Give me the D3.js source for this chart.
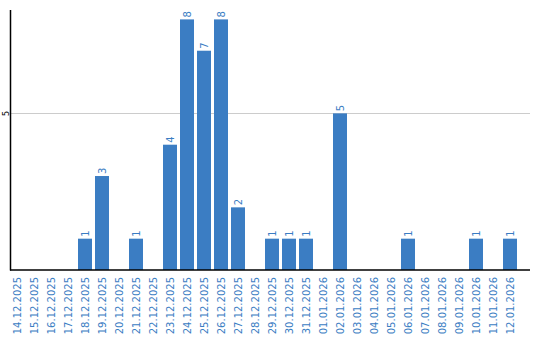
<!DOCTYPE html>
<html><head><meta charset="utf-8">
<script src="https://cdn.jsdelivr.net/npm/d3@7"></script>
<style>body{margin:0;background:#fff}svg{display:block}</style>
</head><body>
<script>
const categories = ["14.12.2025","15.12.2025","16.12.2025","17.12.2025","18.12.2025","19.12.2025","20.12.2025","21.12.2025","22.12.2025","23.12.2025","24.12.2025","25.12.2025","26.12.2025","27.12.2025","28.12.2025","29.12.2025","30.12.2025","31.12.2025","01.01.2026","02.01.2026","03.01.2026","04.01.2026","05.01.2026","06.01.2026","07.01.2026","08.01.2026","09.01.2026","10.01.2026","11.01.2026","12.01.2026"];
const values = [0,0,0,0,1,3,0,1,0,4,8,7,8,2,0,1,1,1,0,5,0,0,0,1,0,0,0,1,0,1];
const yTicks = [5];

const W = 540, H = 340;
const color = "#3b7dc3";
const svg = d3.select("body").append("svg").attr("width", W).attr("height", H);

const x = d3.scaleBand().domain(categories).range([8.5, 518.5]).paddingInner(3/17).paddingOuter(1.5/17);
const y = d3.scaleLinear().domain([0, 8.3]).range([270, 10]);

// gridlines
svg.append("g").selectAll("line").data(yTicks).join("line")
  .attr("x1", 10.5).attr("x2", 530)
  .attr("y1", d => Math.round(y(d)) + 0.5).attr("y2", d => Math.round(y(d)) + 0.5)
  .attr("stroke", "#cccccc").attr("stroke-width", 1);

// y tick labels
svg.append("g").selectAll("text").data(yTicks).join("text")
  .attr("transform", d => `translate(6,${y(d)}) rotate(-90)`)
  .attr("text-anchor", "middle").attr("dy", "0.35em")
  .attr("font-family", "DejaVu Sans, sans-serif").attr("font-size", 8).attr("fill", "#000")
  .text(d => d);

// bars
svg.append("g").selectAll("rect").data(values).join("rect")
  .attr("x", (d, i) => x(categories[i])).attr("width", x.bandwidth())
  .attr("y", d => y(d)).attr("height", d => y(0) - y(d))
  .attr("fill", color);

// value labels
svg.append("g").selectAll("text").data(values.map((v, i) => ({v, c: categories[i]})).filter(d => d.v > 0)).join("text")
  .attr("transform", d => `translate(${x(d.c) + x.bandwidth() / 2},${y(d.v) - 2}) rotate(-90)`)
  .attr("text-anchor", "start").attr("dy", "0.35em")
  .attr("font-family", "DejaVu Sans, sans-serif").attr("font-size", 10).attr("fill", color)
  .text(d => d.v);

// axes lines
svg.append("line").attr("x1", 10.5).attr("x2", 10.5).attr("y1", 10).attr("y2", 270.5)
  .attr("stroke", "#000").attr("stroke-width", 1.5);
svg.append("line").attr("x1", 10).attr("x2", 530).attr("y1", 270).attr("y2", 270)
  .attr("stroke", "#000").attr("stroke-width", 1.5);

// x labels
svg.append("g").selectAll("text").data(categories).join("text")
  .attr("transform", d => `translate(${x(d) + x.bandwidth() / 2},277) rotate(-90)`)
  .attr("text-anchor", "end").attr("dy", "0.35em")
  .attr("font-family", "DejaVu Sans, sans-serif").attr("font-size", 10).attr("fill", color)
  .text(d => d);
</script>
</body></html>
